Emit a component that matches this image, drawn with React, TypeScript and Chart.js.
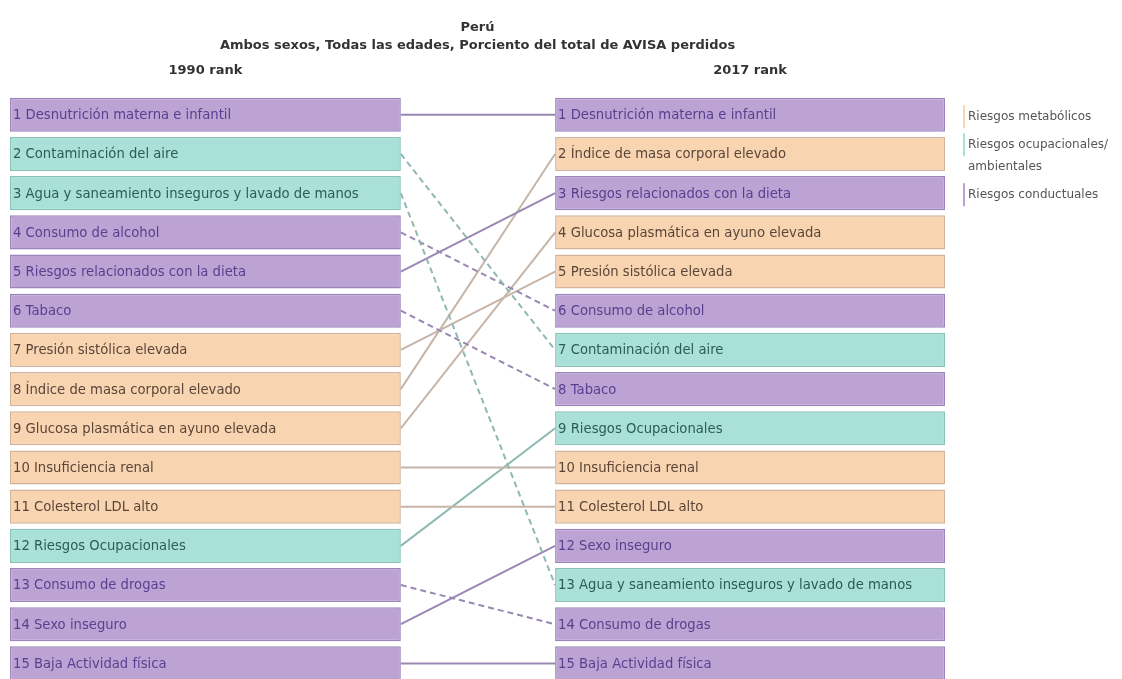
import React, { useEffect, useRef } from 'react';
import { Chart, registerables } from 'chart.js';

Chart.register(...registerables);

// ---- data ----
const RISKS = [
  'Desnutrición materna e infantil',
  'Contaminación del aire',
  'Agua y saneamiento inseguros y lavado de manos',
  'Consumo de alcohol',
  'Riesgos relacionados con la dieta',
  'Tabaco',
  'Presión sistólica elevada',
  'Índice de masa corporal elevado',
  'Glucosa plasmática en ayuno elevada',
  'Insuficiencia renal',
  'Colesterol LDL alto',
  'Riesgos Ocupacionales',
  'Consumo de drogas',
  'Sexo inseguro',
  'Baja Actividad física',
];
const RANK_1990 = [1, 2, 3, 4, 5, 6, 7, 8, 9, 10, 11, 12, 13, 14, 15];
const RANK_2017 = [1, 7, 13, 6, 3, 8, 5, 2, 4, 10, 11, 9, 14, 12, 15];
// m = metabólicos, o = ocupacionales/ambientales, c = conductuales
const CATEGORY = ['c', 'o', 'o', 'c', 'c', 'c', 'm', 'm', 'm', 'm', 'm', 'o', 'c', 'c', 'c'];

const LEGEND_KEYS = ['m', 'o', 'c'];
const LEGEND_LABELS = [['Riesgos metabólicos'], ['Riesgos ocupacionales/', 'ambientales'], ['Riesgos conductuales']];

const TITLE = 'Perú';
const SUBTITLE = 'Ambos sexos, Todas las edades, Porciento del total de AVISA perdidos';
const COLUMN_HEADERS = ['1990 rank', '2017 rank'];

// ---- styles ----
const STYLE: Record<string, { fill: string; border: string; text: string; line: string }> = {
  m: { fill: '#f9d4b1', border: '#d2b49a', text: '#5a4638', line: '#c6b5a8' },
  o: { fill: '#a9e0d7', border: '#86c3b9', text: '#2c5c55', line: '#8fb8b3' },
  c: { fill: '#bca3d4', border: '#9c85bd', text: '#5a3f8e', line: '#9888b2' },
};
const LEFT_COL: [number, number] = [0, 41.8];
const RIGHT_COL: [number, number] = [58.3, 100];
const FONT = '"DejaVu Sans", Verdana, sans-serif';

const labelsPlugin = {
  id: 'rankLabels',
  afterDatasetsDraw(chart: any) {
    const ctx = chart.ctx;
    const ranks = [RANK_1990, RANK_2017];
    ctx.save();
    ctx.font = `13.2px ${FONT}`;
    ctx.textBaseline = 'middle';
    ctx.textAlign = 'left';
    [0, 1].forEach((di) => {
      const meta = chart.getDatasetMeta(di);
      meta.data.forEach((el: any, i: number) => {
        const p = el.getProps(['x', 'y', 'base'], true);
        const left = Math.min(p.x, p.base);
        ctx.fillStyle = STYLE[CATEGORY[i]].text;
        ctx.fillText(`${ranks[di][i]} ${RISKS[i]}`, left + 3, p.y + 1);
      });
    });
    // column headers
    const xs = chart.scales.x;
    const top = chart.chartArea.top;
    ctx.font = `bold 13px ${FONT}`;
    ctx.fillStyle = '#333';
    ctx.textAlign = 'center';
    [LEFT_COL, RIGHT_COL].forEach((col, k) => {
      const cx = (xs.getPixelForValue(col[0]) + xs.getPixelForValue(col[1])) / 2;
      ctx.fillText(COLUMN_HEADERS[k], cx, top - 25);
    });
    // legend
    const lx = chart.chartArea.right + 18;
    let y = top + 22;
    ctx.font = `12px ${FONT}`;
    ctx.textAlign = 'left';
    LEGEND_KEYS.forEach((key, k) => {
      const lines = LEGEND_LABELS[k];
      ctx.fillStyle = STYLE[key].fill;
      ctx.fillRect(lx, y - 12, 2, 23);
      ctx.fillStyle = '#555';
      lines.forEach((t, j) => ctx.fillText(t, lx + 5, y + j * 22));
      y += (lines.length - 1) * 22 + 28;
    });
    ctx.restore();
  },
};

export default function App() {
  const ref = useRef<HTMLCanvasElement>(null);
  useEffect(() => {
    if (!ref.current) return;
    const fills = CATEGORY.map((c) => STYLE[c].fill);
    const borders = CATEGORY.map((c) => STYLE[c].border);
    const barCommon = {
      type: 'bar' as const,
      backgroundColor: fills,
      borderColor: borders,
      borderWidth: 1.5,
      borderSkipped: false,
      grouped: false,
      barPercentage: 0.87,
      categoryPercentage: 1,
    };
    const lineSets = RISKS.map((r, i) => ({
      type: 'line' as const,
      label: r,
      data: [
        { x: LEFT_COL[1], y: RANK_1990[i] },
        { x: RIGHT_COL[0], y: RANK_2017[i] },
      ],
      borderColor: STYLE[CATEGORY[i]].line,
      borderWidth: 2,
      borderDash: RANK_2017[i] > RANK_1990[i] ? [6, 4] : [],
      pointRadius: 0,
      fill: false,
      tension: 0,
    }));
    const chart = new Chart(ref.current, {
      type: 'bar',
      data: {
        datasets: [
          { ...barCommon, label: '1990', data: RANK_1990.map((r) => ({ x: LEFT_COL, y: r })) },
          { ...barCommon, label: '2017', data: RANK_2017.map((r) => ({ x: RIGHT_COL, y: r })) },
          ...lineSets,
        ] as any,
      },
      options: {
        indexAxis: 'y',
        responsive: false,
        animation: false,
        events: [],
        layout: { padding: { left: 10, right: 177, top: 0, bottom: 17 } },
        scales: {
          x: { type: 'linear', min: 0, max: 100, display: false, offset: false },
          y: { type: 'linear', min: 0.5, max: 15.5, reverse: true, display: false, offset: false },
        },
        plugins: {
          legend: { display: false },
          tooltip: { enabled: false },
          title: {
            display: true,
            text: TITLE,
            color: '#333',
            font: { family: FONT, size: 13, weight: 'bold' },
            padding: { top: 20, bottom: 2 },
          },
          subtitle: {
            display: true,
            text: SUBTITLE,
            color: '#333',
            font: { family: FONT, size: 13, weight: 'bold' },
            padding: { top: 0, bottom: 42 },
          },
        },
      } as any,
      plugins: [labelsPlugin],
    });
    return () => chart.destroy();
  }, []);
  return (
    <div style={{ position: 'absolute', left: 0, top: 0, width: 1122, height: 679, overflow: 'hidden', background: '#fff' }}>
      <canvas ref={ref} width={1122} height={700} />
    </div>
  );
}
